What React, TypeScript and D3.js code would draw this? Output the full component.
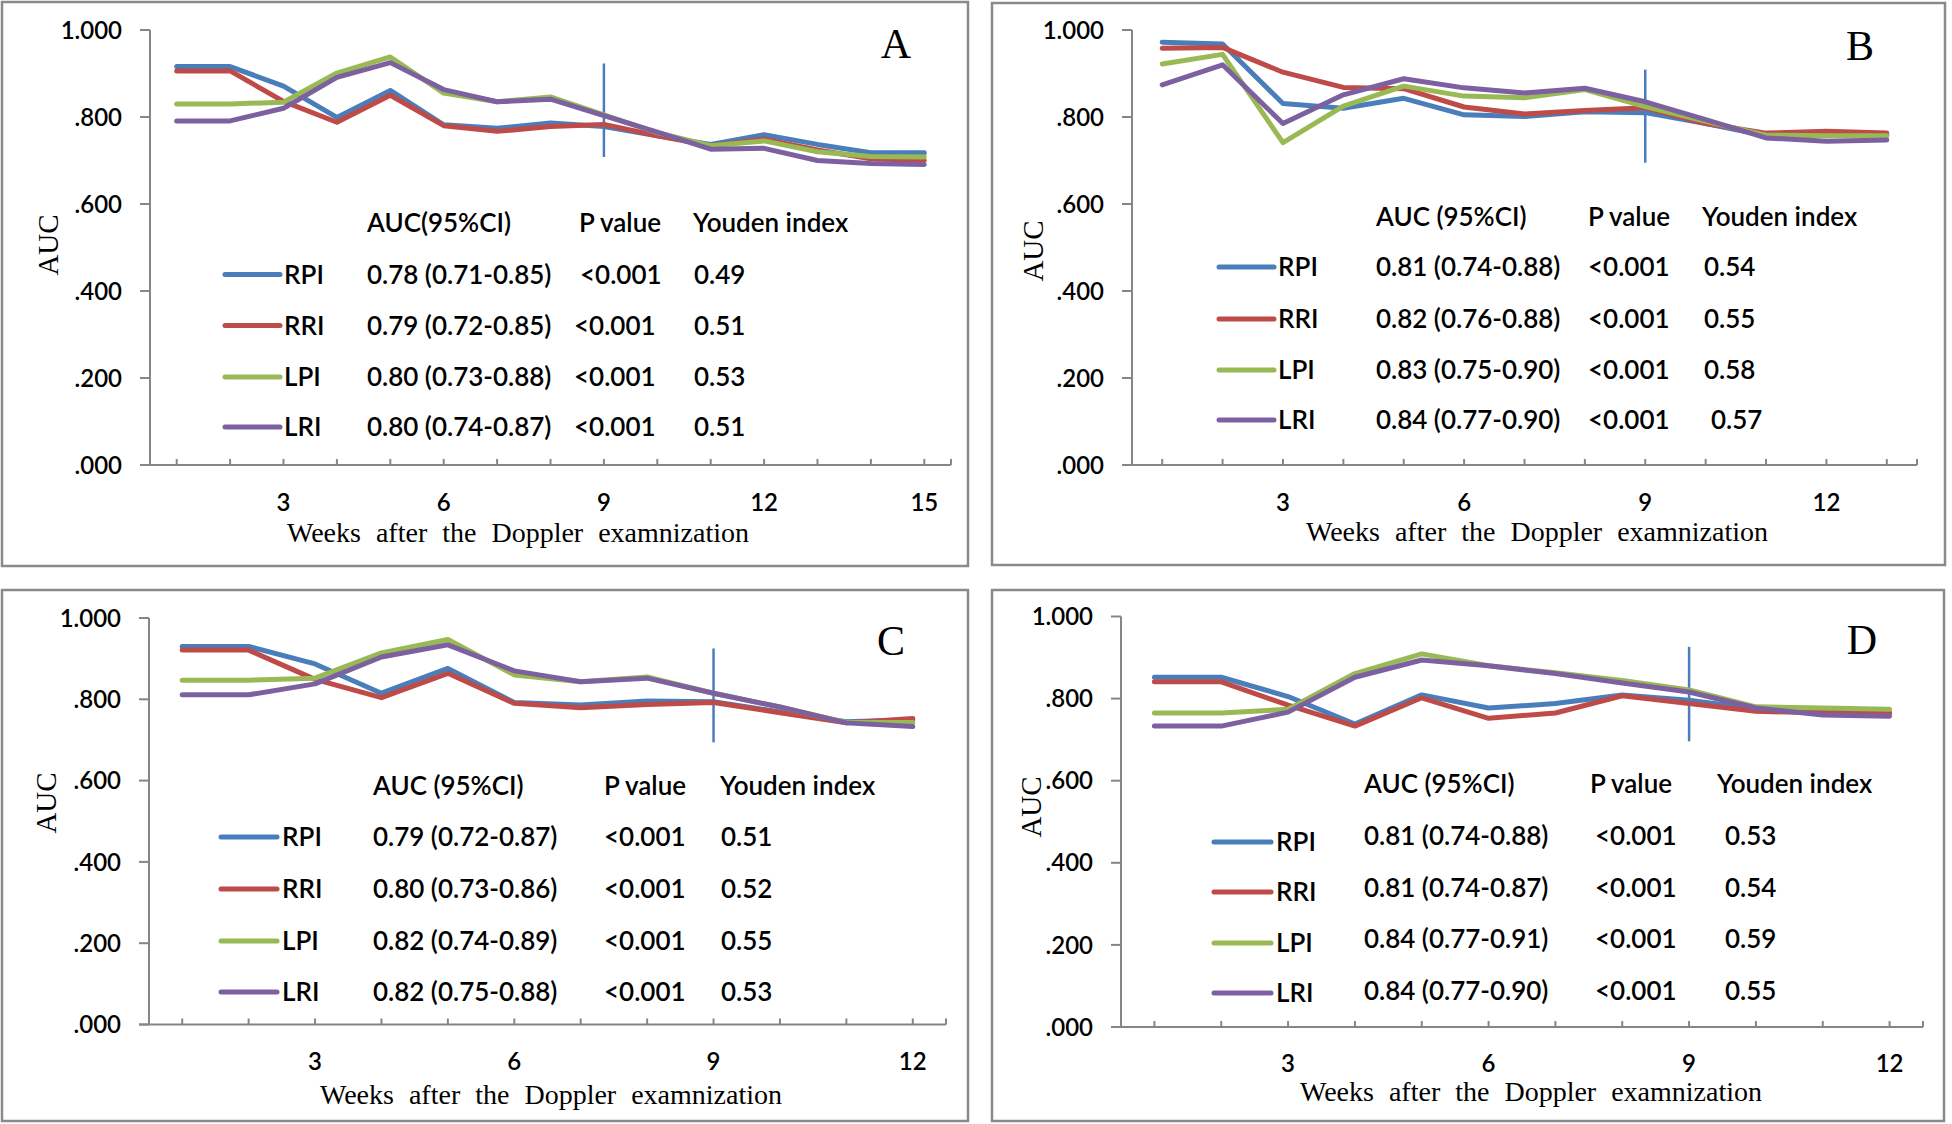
import React from "react";
import * as d3 from "d3";

// ---------------- DATA ----------------
const SERIES_NAMES = ["RPI", "RRI", "LPI", "LRI"];
const SERIES_COLORS = ["#4A7EBB", "#BE4B48", "#98B954", "#7D60A0"];

const Y_TICK_VALUES = [0, 0.2, 0.4, 0.6, 0.8, 1.0];
const Y_TICK_LABELS = [".000", ".200", ".400", ".600", ".800", "1.000"];

const WEEKS_A = [1, 2, 3, 4, 5, 6, 7, 8, 9, 10, 11, 12, 13, 14, 15];
const WEEKS_B = [1, 2, 3, 4, 5, 6, 7, 8, 9, 10, 11, 12, 13];
const WEEKS_C = [1, 2, 3, 4, 5, 6, 7, 8, 9, 10, 11, 12];
const WEEKS_D = [1, 2, 3, 4, 5, 6, 7, 8, 9, 10, 11, 12];

const X_TICKS_A = [3, 6, 9, 12, 15];
const X_TICKS_B = [3, 6, 9, 12];
const X_TICKS_C = [3, 6, 9, 12];
const X_TICKS_D = [3, 6, 9, 12];

const A_RPI = [0.916, 0.916, 0.871, 0.799, 0.861, 0.782, 0.774, 0.786, 0.778, 0.757, 0.737, 0.759, 0.737, 0.718, 0.718];
const A_RRI = [0.906, 0.906, 0.836, 0.788, 0.850, 0.780, 0.767, 0.778, 0.783, 0.757, 0.734, 0.749, 0.724, 0.704, 0.700];
const A_LPI = [0.830, 0.830, 0.834, 0.901, 0.938, 0.855, 0.835, 0.846, 0.805, 0.764, 0.734, 0.745, 0.720, 0.709, 0.708];
const A_LRI = [0.791, 0.791, 0.820, 0.891, 0.925, 0.863, 0.835, 0.841, 0.803, 0.765, 0.726, 0.728, 0.700, 0.693, 0.691];

const B_RPI = [0.972, 0.968, 0.831, 0.820, 0.843, 0.805, 0.801, 0.812, 0.810, 0.785, 0.757, 0.758, 0.758];
const B_RRI = [0.958, 0.960, 0.903, 0.868, 0.865, 0.823, 0.807, 0.815, 0.821, 0.785, 0.763, 0.767, 0.763];
const B_LPI = [0.922, 0.944, 0.741, 0.825, 0.871, 0.848, 0.844, 0.863, 0.824, 0.790, 0.758, 0.757, 0.757];
const B_LRI = [0.874, 0.920, 0.785, 0.851, 0.888, 0.867, 0.855, 0.866, 0.835, 0.794, 0.752, 0.744, 0.747];

const C_RPI = [0.930, 0.930, 0.887, 0.815, 0.876, 0.792, 0.786, 0.796, 0.794, 0.769, 0.745, 0.750];
const C_RRI = [0.921, 0.921, 0.849, 0.804, 0.864, 0.790, 0.779, 0.787, 0.792, 0.767, 0.742, 0.753];
const C_LPI = [0.847, 0.847, 0.852, 0.914, 0.947, 0.860, 0.843, 0.855, 0.815, 0.781, 0.743, 0.743];
const C_LRI = [0.811, 0.811, 0.838, 0.904, 0.934, 0.870, 0.843, 0.852, 0.815, 0.781, 0.742, 0.733];

const D_RPI = [0.852, 0.852, 0.805, 0.738, 0.809, 0.777, 0.788, 0.809, 0.796, 0.775, 0.769, 0.765];
const D_RRI = [0.841, 0.841, 0.784, 0.733, 0.802, 0.752, 0.765, 0.807, 0.788, 0.769, 0.765, 0.765];
const D_LPI = [0.765, 0.765, 0.774, 0.861, 0.909, 0.880, 0.863, 0.844, 0.821, 0.780, 0.777, 0.774];
const D_LRI = [0.733, 0.733, 0.767, 0.852, 0.894, 0.880, 0.861, 0.838, 0.816, 0.777, 0.760, 0.757];

const CUTOFF_WEEK = 9;
const A_CUTOFF = [0.708, 0.923];
const B_CUTOFF = [0.695, 0.909];
const C_CUTOFF = [0.694, 0.925];
const D_CUTOFF = [0.696, 0.926];

const A_HEAD = ["AUC(95%CI)", "P value", "Youden index"];
const B_HEAD = ["AUC (95%CI)", "P value", "Youden index"];
const C_HEAD = ["AUC (95%CI)", "P value", "Youden index"];
const D_HEAD = ["AUC (95%CI)", "P value", "Youden index"];

const A_AUC = ["0.78 (0.71-0.85)", "0.79 (0.72-0.85)", "0.80 (0.73-0.88)", "0.80 (0.74-0.87)"];
const B_AUC = ["0.81 (0.74-0.88)", "0.82 (0.76-0.88)", "0.83 (0.75-0.90)", "0.84 (0.77-0.90)"];
const C_AUC = ["0.79 (0.72-0.87)", "0.80 (0.73-0.86)", "0.82 (0.74-0.89)", "0.82 (0.75-0.88)"];
const D_AUC = ["0.81 (0.74-0.88)", "0.81 (0.74-0.87)", "0.84 (0.77-0.91)", "0.84 (0.77-0.90)"];

const A_P = ["<0.001", "<0.001", "<0.001", "<0.001"];
const B_P = ["<0.001", "<0.001", "<0.001", "<0.001"];
const C_P = ["<0.001", "<0.001", "<0.001", "<0.001"];
const D_P = ["<0.001", "<0.001", "<0.001", "<0.001"];

const A_YOUDEN = ["0.49", "0.51", "0.53", "0.51"];
const B_YOUDEN = ["0.54", "0.55", "0.58", "0.57"];
const C_YOUDEN = ["0.51", "0.52", "0.55", "0.53"];
const D_YOUDEN = ["0.53", "0.54", "0.59", "0.55"];

const PANEL_LETTERS = ["A", "B", "C", "D"];
const X_TITLE = "Weeks after the Doppler examnization";
const Y_TITLE = "AUC";

// ---------------- LAYOUT / STYLE ----------------
const SANS = "Lato, 'Open Sans', sans-serif";
const SERIF = "'Times New Roman', 'Liberation Serif', serif";
const AXIS_COLOR = "#868686";
const FRAME_COLOR = "#8a8a8a";

const PANELS = [
  {
    letter: PANEL_LETTERS[0], weeks: WEEKS_A, xTicks: X_TICKS_A,
    series: [A_RPI, A_RRI, A_LPI, A_LRI], cutoff: A_CUTOFF,
    head: A_HEAD, auc: A_AUC, p: A_P, youden: A_YOUDEN,
    frame: { x: 2, y: 2, w: 966, h: 564 },
    x0: 150, x1: 951, yTop: 30, yBottom: 465,
    letterPos: [896, 44],
    headY: 223, rowsY: [274.5, 325.5, 377, 427], legendY: [274.5, 325.5, 377, 427],
    legX: [225, 280], labX: 284,
    colX: [367, 574, 694], headX: [367, 579, 693], pAdj: [6, 0, 0, 0], yAdj: [0, 0, 0, 0],
    yTitle: [48, 245], xTitle: [518, 533], tickLabY: 502,
  },
  {
    letter: PANEL_LETTERS[1], weeks: WEEKS_B, xTicks: X_TICKS_B,
    series: [B_RPI, B_RRI, B_LPI, B_LRI], cutoff: B_CUTOFF,
    head: B_HEAD, auc: B_AUC, p: B_P, youden: B_YOUDEN,
    frame: { x: 992, y: 3, w: 953, h: 562 },
    x0: 1132, x1: 1917, yTop: 30, yBottom: 465,
    letterPos: [1860, 46],
    headY: 217, rowsY: [267, 319, 370, 420], legendY: [267, 319, 370, 420],
    legX: [1219, 1274], labX: 1278,
    colX: [1376, 1588, 1704], headX: [1376, 1588, 1702], pAdj: [0, 0, 0, 0], yAdj: [0, 0, 0, 7],
    yTitle: [1033, 251], xTitle: [1537, 532], tickLabY: 502,
  },
  {
    letter: PANEL_LETTERS[2], weeks: WEEKS_C, xTicks: X_TICKS_C,
    series: [C_RPI, C_RRI, C_LPI, C_LRI], cutoff: C_CUTOFF,
    head: C_HEAD, auc: C_AUC, p: C_P, youden: C_YOUDEN,
    frame: { x: 2, y: 590, w: 966, h: 531 },
    x0: 149, x1: 946, yTop: 618, yBottom: 1024.5,
    letterPos: [891, 641],
    headY: 786, rowsY: [837, 889, 941, 992], legendY: [837, 889, 941, 992],
    legX: [221, 277], labX: 282,
    colX: [373, 604, 721], headX: [373, 604, 720], pAdj: [0, 0, 0, 0], yAdj: [0, 0, 0, 0],
    yTitle: [46, 803], xTitle: [551, 1095], tickLabY: 1061,
  },
  {
    letter: PANEL_LETTERS[3], weeks: WEEKS_D, xTicks: X_TICKS_D,
    series: [D_RPI, D_RRI, D_LPI, D_LRI], cutoff: D_CUTOFF,
    head: D_HEAD, auc: D_AUC, p: D_P, youden: D_YOUDEN,
    frame: { x: 992, y: 590, w: 952, h: 531 },
    x0: 1121, x1: 1923, yTop: 616.5, yBottom: 1027,
    letterPos: [1862, 640],
    headY: 784, rowsY: [836, 888, 939, 991], legendY: [842, 892, 943, 993],
    legX: [1214, 1271], labX: 1276,
    colX: [1364, 1595, 1725], headX: [1364, 1590, 1717], pAdj: [0, 0, 0, 0], yAdj: [0, 0, 0, 0],
    yTitle: [1031, 807], xTitle: [1531, 1092], tickLabY: 1063,
  },
];

const TABLE_FS = 26;
const TICK_FS = 24;
const TITLE_FS = 28;
const YTITLE_FS = 29;
const LETTER_FS = 42;

function Panel({ p }: { p: any }) {
  const x = d3.scalePoint<number>().domain(p.weeks).range([p.x0, p.x1]).padding(0.5);
  const y = d3.scaleLinear().domain([0, 1]).range([p.yBottom, p.yTop]);
  const line = d3
    .line<number>()
    .x((_, i) => x(p.weeks[i]) as number)
    .y((d) => y(d));

  const sansText = (props: any, s: string, key?: any) => (
    <text key={key} fontFamily={SANS} fontWeight={600} fill="#000" dy="0.36em" {...props}>
      {s}
    </text>
  );

  return (
    <g>
      <rect x={p.frame.x} y={p.frame.y} width={p.frame.w} height={p.frame.h}
        fill="#fff" stroke={FRAME_COLOR} strokeWidth={2.5} />

      {/* y axis */}
      <line x1={p.x0} x2={p.x0} y1={y(1)} y2={y(0)} stroke={AXIS_COLOR} strokeWidth={2} />
      {Y_TICK_VALUES.map((v, i) => (
        <g key={"yt" + i}>
          <line x1={p.x0 - 10} x2={p.x0} y1={y(v)} y2={y(v)} stroke={AXIS_COLOR} strokeWidth={2} />
          {sansText({ x: p.x0 - 28, y: y(v), textAnchor: "end", fontSize: TICK_FS }, Y_TICK_LABELS[i])}
        </g>
      ))}

      {/* x axis */}
      <line x1={p.x0 - 10} x2={p.x1} y1={y(0)} y2={y(0)} stroke={AXIS_COLOR} strokeWidth={2} />
      {p.weeks.map((w: number) => (
        <line key={"xt" + w} x1={x(w)} x2={x(w)} y1={y(0)} y2={y(0) - 6} stroke={AXIS_COLOR} strokeWidth={2} />
      ))}
      <line x1={p.x1} x2={p.x1} y1={y(0)} y2={y(0) - 6} stroke={AXIS_COLOR} strokeWidth={2} />
      {p.xTicks.map((w: number) =>
        sansText({ x: x(w), y: p.tickLabY, textAnchor: "middle", fontSize: TICK_FS }, String(w), "xl" + w)
      )}

      {/* cutoff line */}
      <line x1={x(CUTOFF_WEEK)} x2={x(CUTOFF_WEEK)} y1={y(p.cutoff[0])} y2={y(p.cutoff[1])}
        stroke={SERIES_COLORS[0]} strokeWidth={2.5} />

      {/* series */}
      {p.series.map((vals: number[], i: number) => (
        <path key={"s" + i} d={line(vals) as string} fill="none" stroke={SERIES_COLORS[i]}
          strokeWidth={5} strokeLinejoin="round" strokeLinecap="round" />
      ))}

      {/* table */}
      {p.head.map((h: string, i: number) =>
        sansText({ x: p.headX[i], y: p.headY, fontSize: TABLE_FS }, h, "h" + i)
      )}
      {SERIES_NAMES.map((name, i) => (
        <g key={"row" + i}>
          <line x1={p.legX[0]} x2={p.legX[1]} y1={p.legendY[i]} y2={p.legendY[i]}
            stroke={SERIES_COLORS[i]} strokeWidth={5} strokeLinecap="round" />
          {sansText({ x: p.labX, y: p.legendY[i], fontSize: TABLE_FS }, name)}
          {sansText({ x: p.colX[0], y: p.rowsY[i], fontSize: TABLE_FS }, p.auc[i])}
          {sansText({ x: p.colX[1] + p.pAdj[i], y: p.rowsY[i], fontSize: TABLE_FS }, p.p[i])}
          {sansText({ x: p.colX[2] + p.yAdj[i], y: p.rowsY[i], fontSize: TABLE_FS }, p.youden[i])}
        </g>
      ))}

      {/* letter */}
      <text x={p.letterPos[0]} y={p.letterPos[1]} dy="0.33em" textAnchor="middle"
        fontFamily={SERIF} fontSize={LETTER_FS} fill="#000">{p.letter}</text>

      {/* axis titles */}
      <text x={p.xTitle[0]} y={p.xTitle[1]} dy="0.33em" textAnchor="middle" fontFamily={SERIF}
        fontSize={TITLE_FS} wordSpacing={8} fill="#000">{X_TITLE}</text>
      <text transform={`translate(${p.yTitle[0]},${p.yTitle[1]}) rotate(-90)`} dy="0.33em"
        textAnchor="middle" fontFamily={SERIF} fontSize={YTITLE_FS} fill="#000">{Y_TITLE}</text>
    </g>
  );
}

export default function App() {
  return (
    <svg width={1952} height={1124} style={{ position: "absolute", left: 0, top: 0, background: "#fff" }}>
      <rect x={0} y={0} width={1952} height={1124} fill="#fff" />
      {PANELS.map((p, i) => (
        <Panel key={i} p={p} />
      ))}
    </svg>
  );
}
